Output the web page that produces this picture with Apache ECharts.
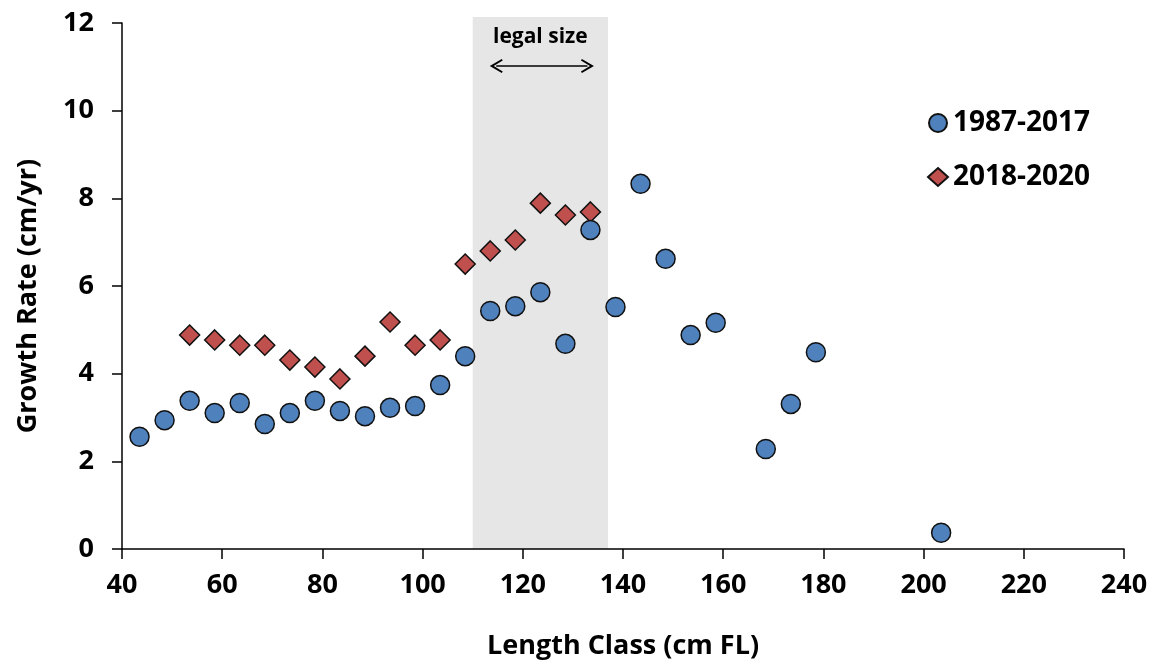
<!DOCTYPE html>
<html>
<head>
    <meta charset="utf-8" />
    <title>Growth Rate</title>
    <style>
        html, body { margin: 0; padding: 0; background: #fff; }
        #chart { width: 1157px; height: 665px; }
    </style>
</head>
<body>
    <div id="chart"></div>
    <script src="https://cdn.jsdelivr.net/npm/echarts@6/dist/echarts.min.js"></script>
<script>
    // length classes (cm FL) and growth rates (cm/yr)
    var classesOld = [43.5, 48.5, 53.5, 58.5, 63.5, 68.5, 73.5, 78.5, 83.5, 88.5, 93.5, 98.5, 103.5, 108.5,
        113.5, 118.5, 123.5, 128.5, 133.5, 138.5, 143.5, 148.5, 153.5, 158.5, 168.5, 173.5, 178.5, 203.5];
    var ratesOld = [2.56, 2.94, 3.38, 3.10, 3.33, 2.85, 3.10, 3.38, 3.15, 3.03, 3.22, 3.26, 3.74, 4.40,
        5.43, 5.54, 5.86, 4.68, 7.28, 5.52, 8.33, 6.62, 4.88, 5.16, 2.28, 3.31, 4.49, 0.37];
    var classesNew = [53.5, 58.5, 63.5, 68.5, 73.5, 78.5, 83.5, 88.5, 93.5, 98.5, 103.5, 108.5, 113.5, 118.5, 123.5, 128.5, 133.5];
    var ratesNew = [4.88, 4.77, 4.65, 4.65, 4.31, 4.15, 3.88, 4.40, 5.18, 4.65, 4.77, 6.50, 6.80, 7.05, 7.89, 7.62, 7.69];
    var legalSize = [110, 137];
    var legalArrow = [114.7, 132.9, 11.02];
    var xTicks = [40, 240, 20];
    var yTicks = [0, 12, 2];

    var font = '"Open Sans", "Liberation Sans", sans-serif';
    var chevron = 'path://M5,0 L10,8.5 L8.9,9.2 L5,2.8 L1.1,9.2 L0,8.5 Z';

    function pairs(xs, ys) {
        return xs.map(function (x, i) { return [x, ys[i]]; });
    }

    var myChart = echarts.init(document.getElementById('chart'));
    var option = {
        animation: false,
        textStyle: { fontFamily: font },
        grid: [
            { left: 122, right: 33, top: 23, bottom: 116 },
            // shaded band reaches a bit above the plot top
            { left: 122, right: 33, top: 17, bottom: 116 }
        ],
        legend: {
            orient: 'vertical',
            left: 922,
            top: 104,
            itemGap: 26,
            itemWidth: 20,
            itemHeight: 18,
            data: ['1987-2017', '2018-2020'],
            textStyle: { fontSize: 28, fontWeight: 'bold', color: '#000', fontFamily: font }
        },
        xAxis: [{
            type: 'value',
            gridIndex: 0,
            min: xTicks[0], max: xTicks[1], interval: xTicks[2],
            name: 'Length Class (cm FL)',
            nameLocation: 'middle',
            nameGap: 84,
            nameTextStyle: { fontSize: 27, fontWeight: 'bold', color: '#000' },
            axisLine: { onZero: false, lineStyle: { color: '#000', width: 1.5 } },
            axisTick: { length: 10, lineStyle: { color: '#000', width: 1.5 } },
            axisLabel: { margin: 23, fontSize: 27, fontWeight: 'bold', color: '#000' },
            splitLine: { show: false },
            z: 5
        }, {
            type: 'value',
            gridIndex: 1,
            min: xTicks[0], max: xTicks[1],
            show: false
        }],
        yAxis: [{
            type: 'value',
            gridIndex: 0,
            min: yTicks[0], max: yTicks[1], interval: yTicks[2],
            name: 'Growth Rate (cm/yr)',
            nameLocation: 'middle',
            nameGap: 80,
            nameTextStyle: {
                fontSize: 27, fontWeight: 'bold', color: '#000',
                padding: [0, 20, 0, 0], backgroundColor: 'rgba(255,255,255,0)'
            },
            axisLine: { show: true, lineStyle: { color: '#000', width: 1.5 } },
            axisTick: { show: true, length: 10, lineStyle: { color: '#000', width: 1.5 } },
            axisLabel: { margin: 28, fontSize: 27, fontWeight: 'bold', color: '#000' },
            splitLine: { show: false },
            z: 5
        }, {
            type: 'value',
            gridIndex: 1,
            min: 0, max: 12.14,
            show: false
        }],
        series: [
            {
                name: 'legal',
                type: 'scatter',
                xAxisIndex: 1,
                yAxisIndex: 1,
                data: [],
                z: 1,
                silent: true,
                markArea: {
                    silent: true,
                    itemStyle: { color: '#e6e6e6' },
                    label: {
                        show: true,
                        position: 'insideTop',
                        distance: 10,
                        fontSize: 21,
                        fontWeight: 'bold',
                        color: '#000',
                        fontFamily: font
                    },
                    data: [[{ name: 'legal size', xAxis: legalSize[0] }, { xAxis: legalSize[1] }]]
                },
                markLine: {
                    silent: true,
                    symbol: [chevron, chevron],
                    symbolSize: [14, 13],
                    lineStyle: { color: '#000', width: 1.5, type: 'solid' },
                    label: { show: false },
                    data: [[{ coord: [legalArrow[0], legalArrow[2]] }, { coord: [legalArrow[1], legalArrow[2]] }]]
                }
            },
            {
                name: '2018-2020',
                type: 'scatter',
                symbol: 'diamond',
                symbolSize: 20,
                z: 3,
                itemStyle: { color: '#C0504D', borderColor: '#111', borderWidth: 1.5, opacity: 1 },
                data: pairs(classesNew, ratesNew)
            },
            {
                name: '1987-2017',
                type: 'scatter',
                symbol: 'circle',
                symbolSize: 19,
                z: 4,
                itemStyle: { color: '#4F81BD', borderColor: '#111', borderWidth: 1.5, opacity: 1 },
                data: pairs(classesOld, ratesOld)
            }
        ]
    };

    myChart.setOption(option);
</script>
</body>
</html>
